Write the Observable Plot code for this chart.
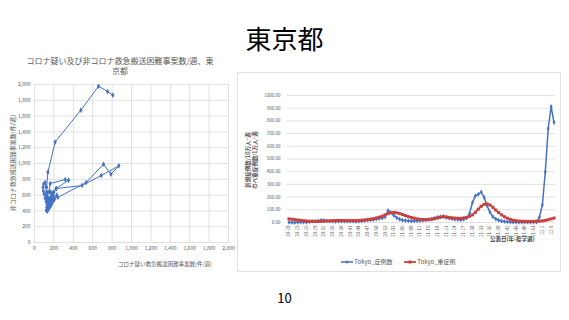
<!DOCTYPE html>
<html><head><meta charset="utf-8">
<script src="https://cdn.jsdelivr.net/npm/d3@7"></script>
<script src="https://cdn.jsdelivr.net/npm/@observablehq/plot@0.6"></script>
<style>
body{margin:0;background:#fff;width:569px;height:320px;position:relative;overflow:hidden;font-family:"Noto Sans CJK JP","Noto Sans",sans-serif;}
.abs{position:absolute;white-space:nowrap;}
.rot{transform:translate(-50%,-50%) rotate(-90deg);text-align:center;}
</style></head><body>
<div class="abs" style="left:0;width:569px;top:22px;text-align:center;font-size:26px;line-height:32px;color:#000;">東京都</div>
<div class="abs" style="left:0;width:569px;top:290px;text-align:center;font-size:13px;line-height:16px;color:#000;">10</div>

<div class="abs" style="left:20px;width:200px;top:56px;text-align:center;font-size:8px;line-height:10px;color:#595959;">コロナ疑い及び非コロナ救急搬送困難事案数/週、東<br>京都</div>
<div class="abs rot" style="left:12px;top:163px;font-size:6px;line-height:7px;color:#595959;">非コロナ救急搬送困難事案数(件/週)</div>
<div class="abs" style="left:165px;top:264px;transform:translate(-50%,-50%);font-size:5.5px;line-height:7px;color:#595959;">コロナ疑い救急搬送困難事案数(件/週)</div>
<div id="left" class="abs" style="left:0;top:76px;"></div>

<div class="abs" style="left:237px;top:72px;width:322px;height:198px;border:1px solid #e0e0e0;"></div>
<div id="right" class="abs" style="left:237px;top:85px;"></div>
<div class="abs rot" style="left:251.5px;top:160px;font-size:5.5px;line-height:7px;color:#595959;font-weight:bold;">新規症例数/10万人･週<br>のべ重症例数/1万人･週</div>
<div class="abs" style="left:490px;top:236px;font-size:5.5px;line-height:7px;color:#404040;font-weight:bold;">公表日(年-疫学週)</div>
<div class="abs" style="left:341px;top:258px;font-size:6px;line-height:8px;color:#595959;">
<svg width="12" height="8" style="vertical-align:middle"><line x1="0" y1="4" x2="12" y2="4" stroke="#4472C4" stroke-width="1.5"/><path d="M6 2.2 L7.8 4 L6 5.8 L4.2 4 Z" fill="#4472C4"/></svg> Tokyo_症例数</div>
<div class="abs" style="left:404px;top:258px;font-size:6px;line-height:8px;color:#595959;">
<svg width="12" height="8" style="vertical-align:middle"><line x1="0" y1="4" x2="12" y2="4" stroke="#C8413F" stroke-width="1.8"/><rect x="4.5" y="2.5" width="3" height="3" fill="#C8413F"/></svg> Tokyo_重症例</div>

<script>
// ---- Left chart: connected scatter (time order) ----
const coronaSuspected = [100,92,88,95,110,120,128,125,135,150,140,128,122,132,145,160,175,190,205,195,180,165,178,168,155,142,130,150,162,316,351,224,190,170,150,135,128,140,160,185,205,230,240,533,711,788,870,688,489,224,200,180,160,140,130,120,110,125,138,213,478,660,753,808];
const nonCorona      = [610,650,700,740,760,700,640,580,540,520,480,440,405,395,420,450,480,520,545,590,625,640,600,560,530,560,600,640,747,797,789,683,620,560,520,480,450,470,500,540,560,600,570,760,991,865,970,848,721,683,640,600,560,520,480,520,560,700,890,1273,1675,1978,1911,1865];
const scatterTicks = [0,200,400,600,800,1000,1200,1400,1600,1800,2000];

// ---- Right chart: weekly series ----
const weeks = ["20-20","20-21","20-22","20-23","20-24","20-25","20-26","20-27","20-28","20-29","20-30","20-31","20-32","20-33","20-34","20-35","20-36","20-37","20-38","20-39","20-40","20-41","20-42","20-43","20-44","20-45","20-46","20-47","20-48","20-49","20-50","20-51","20-52","20-53",
"21-01","21-02","21-03","21-04","21-05","21-06","21-07","21-08","21-09","21-10","21-11","21-12","21-13","21-14","21-15","21-16","21-17","21-18","21-19","21-20","21-21","21-22","21-23","21-24","21-25","21-26","21-27","21-28","21-29","21-30","21-31","21-32","21-33","21-34","21-35","21-36","21-37","21-38","21-39","21-40","21-41","21-42","21-43","21-44","21-45","21-46","21-47","21-48","21-49","21-50","21-51","21-52",
"22-1","22-2","22-3","22-4","22-5","22-6"];
const weekTickLabels = ["20-20","20-23","20-26","20-29","20-32","20-35","20-38","20-41","20-44","20-47","20-50","20-53","21-03","21-06","21-09","21-12","21-15","21-18","21-21","21-24","21-27","21-30","21-33","21-36","21-39","21-42","21-45","21-48","21-51","22-2","22-5"];
const tokyoCases = [1,0.5,0.5,1,1,2,2.5,5,9,11,13,17,16,13,11,9,8,9,9,9,9,9,9,8,9,11,16,20,21,22,27,32,36,43,
95,78,56,38,26,18,15,13,12,12,13,15,17,20,24,28,34,42,46,48,40,33,30,26,23,22,25,35,71,158,210,222,240,197,133,80,45,28,18,12,8,5,3,2,2,1.5,1.5,1.5,1.5,1.5,2,3,
43,140,400,740,913,787];
const tokyoSevere = [28,26,23,20,17,14,12,10,9,8,8,9,10,12,13,14,15,16,16,15,15,15,15,16,17,18,20,22,26,31,36,42,50,60,
70,78,80,76,70,62,54,46,40,34,29,25,23,23,24,26,30,36,42,46,44,40,37,35,33,33,36,40,48,60,80,105,128,143,146,138,120,98,78,60,45,34,25,18,14,11,10,9,9,9,9,10,
11,13,17,22,28,35];
const rightYTicks = [0,100,200,300,400,500,600,700,800,900,1000];

const font = '"Noto Sans CJK JP","Noto Sans",sans-serif';
const blue = "#4472C4", red = "#C8413F", grid = "#d9d9d9";

const pts = coronaSuspected.map((x, i) => ({x, y: nonCorona[i]}));
const left = Plot.plot({
  width: 240, height: 200, marginLeft: 34, marginRight: 12, marginTop: 8, marginBottom: 34,
  style: {fontSize: "5px", color: "#595959", fontFamily: font, background: "transparent"},
  x: {domain: [0, 2000], ticks: scatterTicks, tickFormat: d3.format(","), tickSize: 0, tickPadding: 4, label: null},
  y: {domain: [0, 2000], ticks: scatterTicks, tickFormat: d3.format(","), tickSize: 0, tickPadding: 4, label: null},
  marks: [
    Plot.ruleX(scatterTicks, {stroke: grid, strokeWidth: 0.8}),
    Plot.ruleY(scatterTicks, {stroke: grid, strokeWidth: 0.8}),
    Plot.line(pts, {x: "x", y: "y", stroke: blue, strokeWidth: 1, curve: "linear"}),
    Plot.dot(pts, {x: "x", y: "y", symbol: "diamond", r: 1.7, fill: blue, stroke: "none"})
  ]
});
document.getElementById("left").appendChild(left);

const series = weeks.map((w, i) => ({w, cases: tokyoCases[i], severe: tokyoSevere[i]}));
const tickSet = new Set(weekTickLabels);
const right = Plot.plot({
  width: 323, height: 165, marginLeft: 50, marginRight: 5, marginTop: 10, marginBottom: 28,
  style: {fontSize: "4.5px", color: "#595959", fontFamily: font, background: "transparent"},
  x: {type: "point", domain: weeks, padding: 0.5, tickSize: 0, tickPadding: 3, tickRotate: -90, tickFormat: d => tickSet.has(d) ? d : "", label: null},
  y: {domain: [0, 1000], ticks: rightYTicks, tickFormat: d3.format(".2f"), tickSize: 0, tickPadding: 7, label: null},
  marks: [
    Plot.ruleY(rightYTicks, {stroke: grid, strokeWidth: 0.8}),
    Plot.line(series, {x: "w", y: "cases", stroke: blue, strokeWidth: 1.5}),
    Plot.dot(series, {x: "w", y: "cases", symbol: "diamond", r: 1.5, fill: blue, stroke: "none"}),
    Plot.line(series, {x: "w", y: "severe", stroke: red, strokeWidth: 1.8}),
    Plot.dot(series, {x: "w", y: "severe", symbol: "square", r: 1.7, fill: red, stroke: "none"})
  ]
});
document.getElementById("right").appendChild(right);
</script>
</body></html>
